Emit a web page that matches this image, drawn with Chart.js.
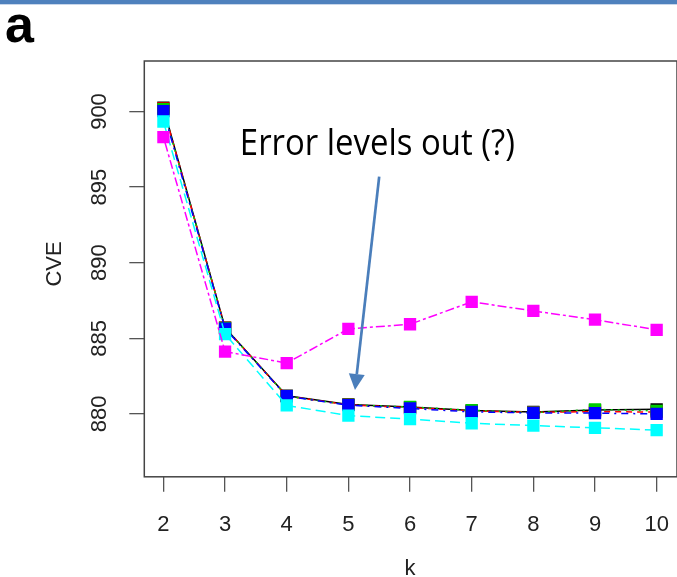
<!DOCTYPE html>
<html lang="en">
<head>
<meta charset="UTF-8">
<title>CVE by number of clusters</title>
<style>
  body { margin: 0; background: #fff; }
  #wrap { position: relative; width: 677px; height: 577px; }
</style>
</head>
<body>
<div id="wrap"><canvas id="cveChart" width="677" height="577"></canvas></div>
<script src="https://cdn.jsdelivr.net/npm/chart.js"></script>
<script>
// cross-validation error for each k, one array per run
const kValues = [2, 3, 4, 5, 6, 7, 8, 9, 10];
const yTicks = [880, 885, 890, 895, 900];
const cveBlack   = [900.25, 885.70, 881.20, 880.62, 880.45, 880.22, 880.13, 880.25, 880.30];
const cveRed     = [900.20, 885.70, 881.18, 880.60, 880.42, 880.20, 880.10, 880.15, 880.12];
const cveGreen   = [900.15, 885.68, 881.18, 880.60, 880.46, 880.24, 880.08, 880.30, 880.20];
const cveBlue    = [900.03, 885.64, 881.17, 880.58, 880.36, 880.13, 880.07, 880.05, 880.00];
const cveCyan    = [899.34, 885.28, 880.56, 879.89, 879.65, 879.38, 879.23, 879.08, 878.93];
const cveMagenta = [898.31, 884.12, 883.36, 885.62, 885.93, 887.41, 886.81, 886.23, 885.56];

const axisFont = '"Liberation Sans", Arial, sans-serif';

function series(values, color, dash, order) {
  return {
    data: values.map((v, i) => ({ x: kValues[i], y: v })),
    borderColor: color,
    backgroundColor: color,
    borderWidth: 1.5,
    borderDash: dash,
    pointStyle: 'rect',
    pointRadius: 8.7,
    pointBorderWidth: 0,
    order: order
  };
}

const decor = {
  id: 'decor',
  beforeDraw(chart) {
    const ctx = chart.ctx;
    ctx.save();
    ctx.fillStyle = '#fff';
    ctx.fillRect(0, 0, chart.width, chart.height);
    ctx.fillStyle = '#4f81bd';
    ctx.fillRect(0, 0, chart.width, 4);
    ctx.fillStyle = '#c8d6ea';
    ctx.fillRect(0, 4, chart.width, 1);
    ctx.restore();
  },
  afterDraw(chart) {
    const ctx = chart.ctx;
    const a = chart.chartArea;
    const x = chart.scales.x, y = chart.scales.y;
    ctx.save();

    // plot frame
    ctx.strokeStyle = '#444';
    ctx.lineWidth = 1.5;
    ctx.strokeRect(a.left, a.top, a.right - a.left, a.bottom - a.top);

    // tick labels; y ones rotated like R's default axis
    ctx.fillStyle = '#222';
    ctx.font = '22px ' + axisFont;
    ctx.textAlign = 'center';
    ctx.textBaseline = 'middle';
    kValues.forEach(v => ctx.fillText(String(v), x.getPixelForValue(v), 525));
    yTicks.forEach(v => {
      ctx.save();
      ctx.translate(100, y.getPixelForValue(v));
      ctx.rotate(-Math.PI / 2);
      ctx.fillText(String(v), 0, 0);
      ctx.restore();
    });

    // axis titles
    ctx.save();
    ctx.translate(55, 264);
    ctx.rotate(-Math.PI / 2);
    ctx.fillText('CVE', 0, 0);
    ctx.restore();
    ctx.fillText('k', x.getPixelForValue(6), 569);

    // panel letter
    ctx.font = 'bold 52px ' + axisFont;
    ctx.fillStyle = '#000';
    ctx.textAlign = 'left';
    ctx.textBaseline = 'alphabetic';
    ctx.fillText('a', 5, 42);

    // callout text: tall letters squeezed to span 275px
    const note = 'Error levels out (?)';
    ctx.font = '36px "Open Sans", sans-serif';
    const sx = 275 / ctx.measureText(note).width;
    ctx.save();
    ctx.translate(x.getPixelForValue(5.47), y.getPixelForValue(897.12));
    ctx.scale(sx, 1);
    ctx.textAlign = 'center';
    ctx.fillText(note, 0, 0);
    ctx.restore();

    // callout arrow
    const x0 = x.getPixelForValue(5.50), y0 = y.getPixelForValue(895.69);
    const x1 = x.getPixelForValue(5.107), y1 = y.getPixelForValue(881.58);
    const ang = Math.atan2(y1 - y0, x1 - x0);
    const headLen = 16, headHalf = 8;
    const bx = x1 - headLen * Math.cos(ang), by = y1 - headLen * Math.sin(ang);
    ctx.strokeStyle = '#4a7ebb';
    ctx.fillStyle = '#4a7ebb';
    ctx.lineWidth = 2.7;
    ctx.beginPath();
    ctx.moveTo(x0, y0);
    ctx.lineTo(bx, by);
    ctx.stroke();
    ctx.beginPath();
    ctx.moveTo(x1, y1);
    ctx.lineTo(bx + headHalf * Math.sin(ang), by - headHalf * Math.cos(ang));
    ctx.lineTo(bx - headHalf * Math.sin(ang), by + headHalf * Math.cos(ang));
    ctx.closePath();
    ctx.fill();

    ctx.restore();
  }
};

new Chart(document.getElementById('cveChart'), {
  type: 'line',
  data: {
    datasets: [
      series(cveBlack, '#000000', [], 6),
      series(cveRed, '#ff0000', [6, 5], 5),
      series(cveGreen, '#00cd00', [2, 5], 4),
      series(cveBlue, '#0000ff', [2, 5, 7, 5], 3),
      series(cveCyan, '#00ffff', [10, 5], 2),
      series(cveMagenta, '#ff00ff', [3, 3, 9, 3], 1)
    ]
  },
  options: {
    responsive: false,
    animation: false,
    devicePixelRatio: 1,
    layout: { autoPadding: false, padding: { top: 61, left: 0, right: 0, bottom: 0 } },
    plugins: { legend: { display: false }, tooltip: { enabled: false } },
    scales: {
      x: {
        type: 'linear',
        min: 1.69,
        max: 10.33,
        afterBuildTicks: s => { s.ticks = kValues.map(v => ({ value: v })); },
        afterFit: s => { s.height = 100.2; },
        grid: { drawOnChartArea: false, drawTicks: true, tickLength: 15, tickColor: '#555', lineWidth: 1.3 },
        border: { display: false },
        ticks: { display: false }
      },
      y: {
        type: 'linear',
        min: 875.84,
        max: 903.34,
        afterBuildTicks: s => { s.ticks = yTicks.map(v => ({ value: v })); },
        afterFit: s => { s.width = 144.3; },
        grid: { drawOnChartArea: false, drawTicks: true, tickLength: 15, tickColor: '#555', lineWidth: 1.3 },
        border: { display: false },
        ticks: { display: false }
      }
    }
  },
  plugins: [decor]
});
</script>
</body>
</html>
